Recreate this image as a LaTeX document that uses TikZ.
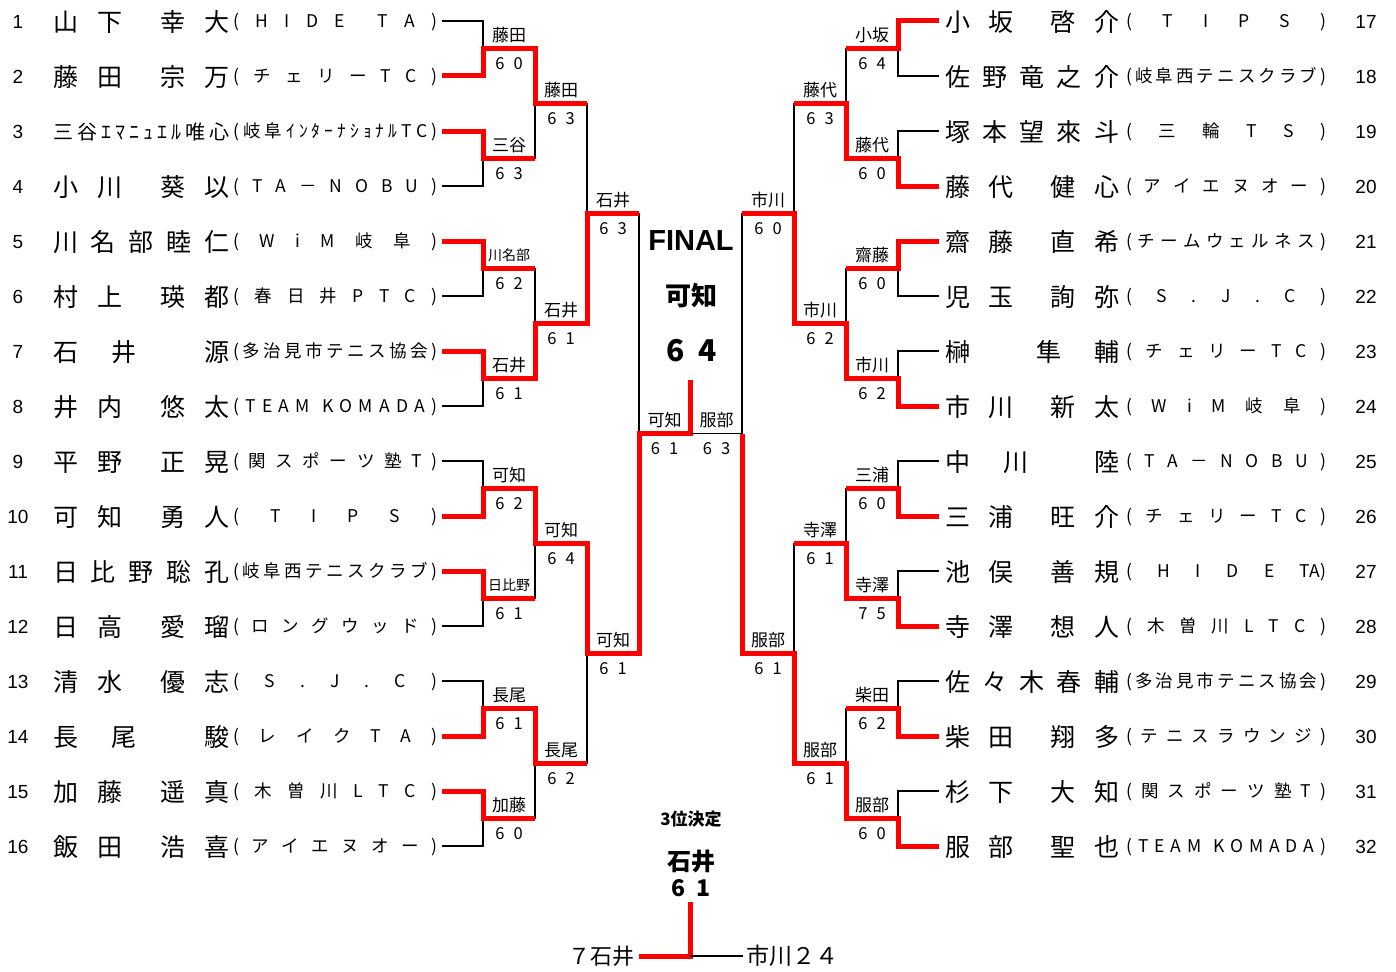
\documentclass[tikz,border=0pt]{standalone}
\usepackage{fontspec}
\setmainfont{Noto Sans CJK JP}
\newfontfamily\arialfont{Liberation Sans}

\makeatletter
\def\spread#1{\spread@#1\@nil}
\def\spread@#1#2\@nil{\ifx|#1\else#1\fi\ifx\relax#2\relax\else\hfill\spread@#2\@nil\fi}
\makeatother
\def\TAp{TA)}

\tikzset{
  bline/.style={line width=1.6pt},
  rline/.style={line width=5pt, red, line join=miter},
  txt/.style={inner sep=0pt},
  rownum/.style={txt, font=\arialfont\fontsize{19}{19}\selectfont},
  pname/.style={txt, anchor=west, font=\fontsize{#1}{#1}\selectfont},
  pname/.default=25,
  club/.style={txt, anchor=west, font=\fontsize{17.5}{17.5}\selectfont},
  wname/.style={txt, font=\fontsize{17}{17}\selectfont},
  wscore/.style={txt, font=\fontsize{16.5}{16.5}\selectfont},
}
\newcommand\smallname{\fontsize{14}{14}\selectfont}

\newcommand\lplayer[4][25]{%
  \node [rownum] (n#2) at (18,{22+55*(#2-1)}) {#2};
  \node [pname=#1] (p#2) at (53,{22+55*(#2-1)}) {\hbox to 176pt{\spread{#3}}};
  \node [club] (c#2) at (233,{22+55*(#2-1)}) {\hbox to 204pt{\spread{#4}}};
}
\newcommand\rplayer[4][25]{%
  \node [rownum] (n#2) at (1366,{22+55*(#2-17)}) {#2};
  \node [pname=#1] (p#2) at (945,{22+55*(#2-17)}) {\hbox to 174pt{\spread{#3}}};
  \node [club] (c#2) at (1126,{22+55*(#2-17)}) {\hbox to 200pt{\spread{#4}}};
}
\newcommand\res[6]{%
  \node [wname] (#1n) at (#2,{#3-13}) {#4};
  \node [wscore] (#1s) at (#2,{#3+15}) {#5\hspace{0.55em}#6};
}
\newcommand\halfbracket{%
  \foreach \k in {0,...,7}
    \draw [bline] (442,{21+110*\k}) -| (483,{76+110*\k}) -- (442,{76+110*\k});
  \foreach \k in {0,...,3}
    \draw [bline] (483,{48.5+220*\k}) -| (535,{158.5+220*\k}) -- (483,{158.5+220*\k});
  \foreach \k in {0,1}
    \draw [bline] (535,{103.5+440*\k}) -| (587,{323.5+440*\k}) -- (535,{323.5+440*\k});
  \draw [bline] (587,213.5) -| (639,653.5) -- (587,653.5);
  \draw [bline] (639,433.5) -- (690.5,433.5);
}

\begin{document}
\begin{tikzpicture}[x=1pt, y=-1pt]
\useasboundingbox (0,0) rectangle (1396,971);

\halfbracket
\draw [rline] (442,76) -- (483,76) -- (483,48.5) -- (535,48.5) -- (535,103.5) -- (587,103.5);
\draw [rline] (442,131) -- (483,131) -- (483,158.5) -- (535,158.5);
\draw [rline] (442,241) -- (483,241) -- (483,268.5) -- (535,268.5);
\draw [rline] (442,351) -- (483,351) -- (483,378.5) -- (535,378.5) -- (535,323.5) -- (587,323.5) -- (587,213.5) -- (639,213.5);
\draw [rline] (442,516) -- (483,516) -- (483,488.5) -- (535,488.5) -- (535,543.5) -- (587,543.5) -- (587,653.5) -- (639,653.5) -- (639,433.5) -- (690,433.5) -- (690,380);
\draw [rline] (442,571) -- (483,571) -- (483,598.5) -- (535,598.5);
\draw [rline] (442,736) -- (483,736) -- (483,708.5) -- (535,708.5) -- (535,763.5) -- (587,763.5);
\draw [rline] (442,791) -- (483,791) -- (483,818.5) -- (535,818.5);

\begin{scope}[xshift=1381pt, xscale=-1]
\halfbracket
\draw [rline] (442,21) -- (483,21) -- (483,48.5) -- (535,48.5);
\draw [rline] (442,186) -- (483,186) -- (483,158.5) -- (535,158.5) -- (535,103.5) -- (587,103.5);
\draw [rline] (442,241) -- (483,241) -- (483,268.5) -- (535,268.5);
\draw [rline] (442,406) -- (483,406) -- (483,378.5) -- (535,378.5) -- (535,323.5) -- (587,323.5) -- (587,213.5) -- (639,213.5);
\draw [rline] (442,516) -- (483,516) -- (483,488.5) -- (535,488.5);
\draw [rline] (442,626) -- (483,626) -- (483,598.5) -- (535,598.5) -- (535,543.5) -- (587,543.5);
\draw [rline] (442,736) -- (483,736) -- (483,708.5) -- (535,708.5);
\draw [rline] (442,846) -- (483,846) -- (483,818.5) -- (535,818.5) -- (535,763.5) -- (587,763.5) -- (587,653.5) -- (639,653.5) -- (639,433.5);
\end{scope}

\lplayer{1}{山下|幸大}{(HIDE|TA)}
\lplayer{2}{藤田|宗万}{(チェリーTC)}
\lplayer[20]{3}{三谷ｴﾏﾆｭｴﾙ唯心}{(岐阜ｲﾝﾀｰﾅｼｮﾅﾙTC)}
\lplayer{4}{小川|葵以}{(TA－NOBU)}
\lplayer{5}{川名部睦仁}{(WiM岐阜)}
\lplayer{6}{村上|瑛都}{(春日井PTC)}
\lplayer{7}{石井|源}{(多治見市テニス協会)}
\lplayer{8}{井内|悠太}{(TEAM|KOMADA)}
\lplayer{9}{平野|正晃}{(関スポーツ塾T)}
\lplayer{10}{可知|勇人}{(TIPS)}
\lplayer{11}{日比野聡孔}{(岐阜西テニスクラブ)}
\lplayer{12}{日高|愛瑠}{(ロングウッド)}
\lplayer{13}{清水|優志}{(S.J.C)}
\lplayer{14}{長尾|駿}{(レイクTA)}
\lplayer{15}{加藤|遥真}{(木曽川LTC)}
\lplayer{16}{飯田|浩喜}{(アイエヌオー)}

\rplayer{17}{小坂|啓介}{(TIPS)}
\rplayer{18}{佐野竜之介}{(岐阜西テニスクラブ)}
\rplayer{19}{塚本望來斗}{(三輪TS)}
\rplayer{20}{藤代|健心}{(アイエヌオー)}
\rplayer{21}{齋藤|直希}{(チームウェルネス)}
\rplayer{22}{児玉|詢弥}{(S.J.C)}
\rplayer{23}{榊|隼輔}{(チェリーTC)}
\rplayer{24}{市川|新太}{(WiM岐阜)}
\rplayer{25}{中川|陸}{(TA－NOBU)}
\rplayer{26}{三浦|旺介}{(チェリーTC)}
\rplayer{27}{池俣|善規}{(HIDE\TAp}
\rplayer{28}{寺澤|想人}{(木曽川LTC)}
\rplayer{29}{佐々木春輔}{(多治見市テニス協会)}
\rplayer{30}{柴田|翔多}{(テニスラウンジ)}
\rplayer{31}{杉下|大知}{(関スポーツ塾T)}
\rplayer{32}{服部|聖也}{(TEAM|KOMADA)}

\res{fujitaa}{509}{48.5}{藤田}{6}{0}
\res{mitani}{509}{158.5}{三谷}{6}{3}
\res{kawanabe}{509}{268.5}{\smallname 川名部}{6}{2}
\res{ishiia}{509}{378.5}{石井}{6}{1}
\res{kachia}{509}{488.5}{可知}{6}{2}
\res{hibino}{509}{598.5}{\smallname 日比野}{6}{1}
\res{nagaoa}{509}{708.5}{長尾}{6}{1}
\res{kato}{509}{818.5}{加藤}{6}{0}
\res{fujitab}{561}{103.5}{藤田}{6}{3}
\res{ishiib}{561}{323.5}{石井}{6}{1}
\res{kachib}{561}{543.5}{可知}{6}{4}
\res{nagaob}{561}{763.5}{長尾}{6}{2}
\res{ishiic}{613}{213.5}{石井}{6}{3}
\res{kachic}{613}{653.5}{可知}{6}{1}
\res{kachid}{664.5}{433.5}{可知}{6}{1}
\res{hattorid}{716.5}{433.5}{服部}{6}{3}
\res{ichikawac}{768}{213.5}{市川}{6}{0}
\res{hattoric}{768}{653.5}{服部}{6}{1}
\res{fujishirob}{820}{103.5}{藤代}{6}{3}
\res{ichikawab}{820}{323.5}{市川}{6}{2}
\res{terasawab}{820}{543.5}{寺澤}{6}{1}
\res{hattorib}{820}{763.5}{服部}{6}{1}
\res{kosaka}{872}{48.5}{小坂}{6}{4}
\res{fujishiroa}{872}{158.5}{藤代}{6}{0}
\res{saito}{872}{268.5}{齋藤}{6}{0}
\res{ichikawaa}{872}{378.5}{市川}{6}{2}
\res{miura}{872}{488.5}{三浦}{6}{0}
\res{terasawaa}{872}{598.5}{寺澤}{7}{5}
\res{shibata}{872}{708.5}{柴田}{6}{2}
\res{hattoria}{872}{818.5}{服部}{6}{0}

\node [txt, font=\arialfont\bfseries\fontsize{29}{29}\selectfont] (final) at (691,241) {FINAL};
\node [txt, font=\bfseries\fontsize{26}{26}\selectfont] (champ) at (691,296) {可知};
\node [txt, font=\bfseries\fontsize{30}{30}\selectfont] (champsc) at (692,351) {6\hspace{0.45em}4};

\node [txt, font=\bfseries\fontsize{17}{17}\selectfont] (third) at (691,819) {3位決定};
\node [txt, font=\bfseries\fontsize{24}{24}\selectfont] (thirdw) at (691,861) {石井};
\node [txt, font=\bfseries\fontsize{23}{23}\selectfont] (thirdsc) at (691,888) {6\hspace{0.5em}1};
\node [txt, anchor=east, inner xsep=4pt, font=\fontsize{22}{22}\selectfont] (ishiithird) at (639,956) {７石井};
\node [txt, anchor=west, inner xsep=3pt, font=\fontsize{23}{23}\selectfont] (ichikawathird) at (743,956) {市川２４};
\coordinate (t3) at (690,956);
\draw [rline] (ishiithird.east) -- (t3) -- (690,902);
\draw [bline] (t3) -- (ichikawathird.west);
\end{tikzpicture}
\end{document}
